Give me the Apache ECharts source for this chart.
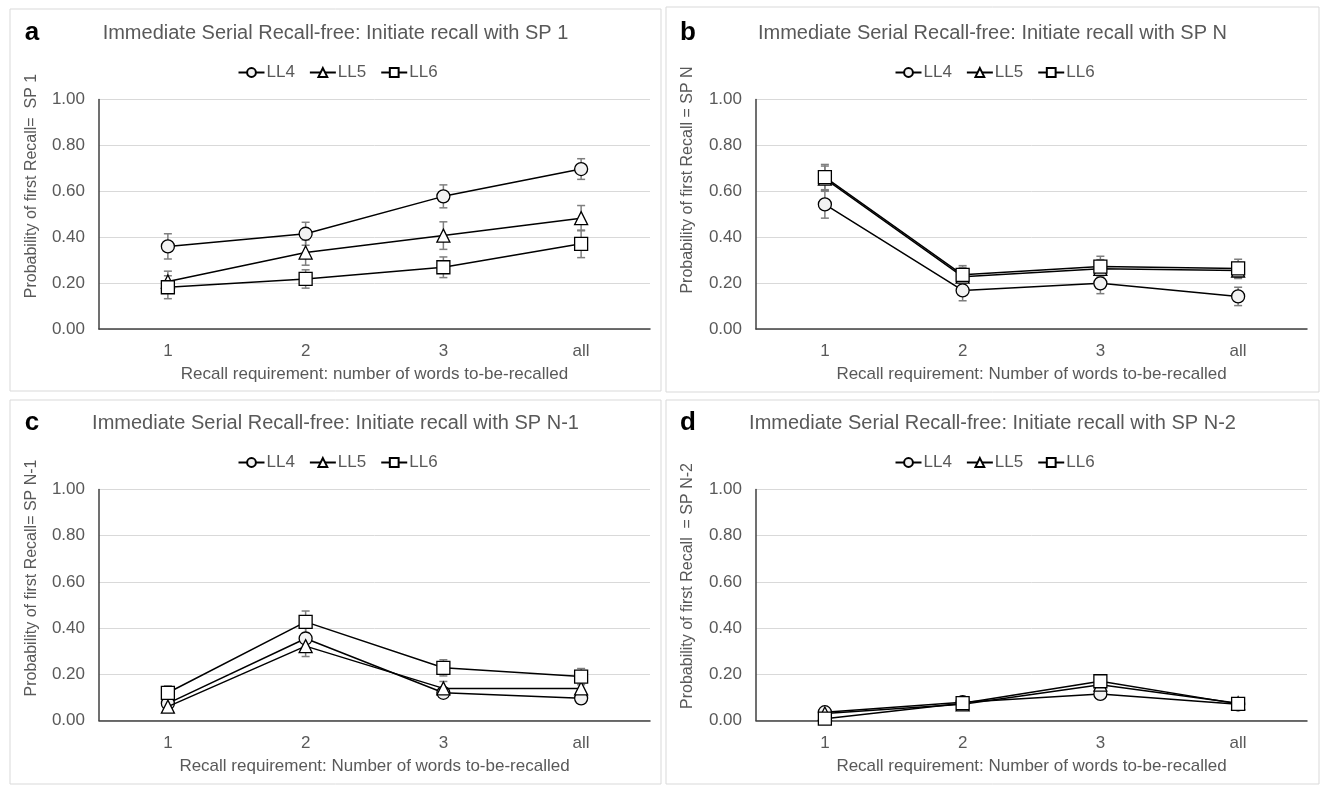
<!DOCTYPE html>
<html>
<head>
<meta charset="utf-8">
<script src="https://cdn.jsdelivr.net/npm/echarts@6/dist/echarts.min.js"></script>
<style>
  html, body { margin: 0; padding: 0; background: #ffffff; }
  #chart { width: 1320px; height: 785px; }
</style>
</head>
<body>
<div id="chart"></div>
<script>
// Category axis and legend entries shared by the four panels
const categories = ['1', '2', '3', 'all'];
const seriesNames = ['LL4', 'LL5', 'LL6'];
const yTickValues = [0, 0.2, 0.4, 0.6, 0.8, 1.0];

// a: initiate recall with SP 1 (means and error-bar half widths)
const aLL4 = [0.36, 0.415, 0.578, 0.697];
const aLL5 = [0.207, 0.333, 0.407, 0.483];
const aLL6 = [0.182, 0.218, 0.269, 0.371];
const aLL4Err = [0.055, 0.05, 0.05, 0.045];
const aLL5Err = [0.045, 0.055, 0.06, 0.055];
const aLL6Err = [0.05, 0.04, 0.045, 0.06];

// b: initiate recall with SP N
const bLL4 = [0.543, 0.168, 0.199, 0.142];
const bLL5 = [0.655, 0.228, 0.262, 0.255];
const bLL6 = [0.662, 0.236, 0.272, 0.264];
const bLL4Err = [0.06, 0.045, 0.045, 0.04];
const bLL5Err = [0.055, 0.04, 0.04, 0.035];
const bLL6Err = [0.055, 0.04, 0.045, 0.04];

// c: initiate recall with SP N-1
const cLL4 = [0.074, 0.355, 0.12, 0.096];
const cLL5 = [0.06, 0.322, 0.139, 0.139];
const cLL6 = [0.12, 0.427, 0.228, 0.19];
const cLL4Err = [0.025, 0.045, 0.02, 0.02];
const cLL5Err = [0.02, 0.045, 0.03, 0.025];
const cLL6Err = [0.03, 0.047, 0.035, 0.035];

// d: initiate recall with SP N-2
const dLL4 = [0.036, 0.079, 0.115, 0.07];
const dLL5 = [0.03, 0.07, 0.155, 0.075];
const dLL6 = [0.008, 0.075, 0.17, 0.072];
const dLL4Err = [0.015, 0.015, 0.02, 0.02];
const dLL5Err = [0.015, 0.015, 0.02, 0.02];
const dLL6Err = [0.01, 0.015, 0.02, 0.02];

// Panel texts
const panelLetters = ['a', 'b', 'c', 'd'];
const panelTitles = [
  'Immediate Serial Recall-free: Initiate recall with SP 1',
  'Immediate Serial Recall-free: Initiate recall with SP N',
  'Immediate Serial Recall-free: Initiate recall with SP N-1',
  'Immediate Serial Recall-free: Initiate recall with SP N-2'
];
const yAxisNames = [
  'Probability of first Recall=  SP 1',
  'Probability of first Recall = SP N',
  'Probability of first Recall= SP N-1',
  'Probability of first Recall  = SP N-2'
];
const xAxisNames = [
  'Recall requirement: number of words to-be-recalled',
  'Recall requirement: Number of words to-be-recalled',
  'Recall requirement: Number of words to-be-recalled',
  'Recall requirement: Number of words to-be-recalled'
];

const panelMeans = [[aLL4, aLL5, aLL6], [bLL4, bLL5, bLL6], [cLL4, cLL5, cLL6], [dLL4, dLL5, dLL6]];
const panelErrors = [[aLL4Err, aLL5Err, aLL6Err], [bLL4Err, bLL5Err, bLL6Err], [cLL4Err, cLL5Err, cLL6Err], [dLL4Err, dLL5Err, dLL6Err]];

// Layout of the 2x2 figure
const layout = [
  { dx: 0,   dy: 0,   box: [10, 9, 651, 382],   h: 229.5, yNameY: 186 },
  { dx: 657, dy: 0,   box: [666, 7, 653, 385],  h: 229.5, yNameY: 180 },
  { dx: 0,   dy: 390, box: [10, 400, 651, 384], h: 231,   yNameY: 578 },
  { dx: 657, dy: 390, box: [666, 400, 653, 384], h: 231,  yNameY: 586 }
];

const symbols = ['circle', 'triangle', 'rect'];
const symbolFills = ['#f2f2f2', '#ffffff', '#ffffff'];
const textGray = '#595959';
const fontFamily = '"Liberation Sans", Arial, sans-serif';

const grids = [], xAxes = [], yAxes = [], series = [], legends = [], graphics = [];

layout.forEach((L, p) => {
  const gridLeft = 99 + L.dx;
  const gridTop = 99.5 + L.dy;
  const centerX = L.box[0] + L.box[2] / 2;

  grids.push({ left: gridLeft, top: gridTop, width: 551, height: L.h });

  xAxes.push({
    gridIndex: p,
    type: 'category',
    data: categories,
    boundaryGap: true,
    axisLine: { lineStyle: { color: '#404040', width: 1.5 } },
    axisTick: { show: false },
    axisLabel: { color: textGray, fontSize: 17, fontFamily, margin: 14 },
    splitLine: { show: false },
    name: xAxisNames[p],
    nameLocation: 'middle',
    nameGap: 37,
    nameTextStyle: { color: textGray, fontSize: 17, fontFamily }
  });

  yAxes.push({
    gridIndex: p,
    type: 'value',
    min: 0,
    max: 1,
    interval: 0.2,
    axisLine: { show: true, lineStyle: { color: '#404040', width: 1.5 } },
    axisTick: { show: false },
    axisLabel: {
      color: textGray, fontSize: 17, fontFamily, margin: 14,
      formatter: v => yTickValues.some(t => Math.abs(t - v) < 1e-9) ? v.toFixed(2) : ''
    },
    splitLine: { lineStyle: { color: '#d9d9d9', width: 1 } }
  });

  seriesNames.forEach((name, s) => {
    const means = panelMeans[p][s];
    const errs = panelErrors[p][s];
    // error bars, drawn beneath the line markers
    series.push({
      type: 'custom',
      name: name + ' error',
      xAxisIndex: p,
      yAxisIndex: p,
      z: 2,
      silent: true,
      data: means.map((m, i) => [i, m - errs[i], m + errs[i]]),
      renderItem: (params, api) => {
        const lo = api.coord([api.value(0), api.value(1)]);
        const hi = api.coord([api.value(0), api.value(2)]);
        const cap = 4;
        const st = { stroke: '#7f7f7f', lineWidth: 1.5 };
        return {
          type: 'group',
          children: [
            { type: 'line', shape: { x1: lo[0], y1: lo[1], x2: hi[0], y2: hi[1] }, style: st },
            { type: 'line', shape: { x1: lo[0] - cap, y1: lo[1], x2: lo[0] + cap, y2: lo[1] }, style: st },
            { type: 'line', shape: { x1: hi[0] - cap, y1: hi[1], x2: hi[0] + cap, y2: hi[1] }, style: st }
          ]
        };
      }
    });
    series.push({
      type: 'line',
      name: name,
      xAxisIndex: p,
      yAxisIndex: p,
      z: 3 + s,
      data: means,
      symbol: symbols[s],
      symbolSize: s === 2 ? 13 : 13,
      showAllSymbol: true,
      lineStyle: { color: '#000000', width: 1.5 },
      itemStyle: { color: symbolFills[s], borderColor: '#000000', borderWidth: 1.3 },
      emphasis: { disabled: true },
      animation: false
    });
  });

  legends.push({
    data: seriesNames,
    left: centerX - 103,
    top: L.dy + 59,
    itemWidth: 26,
    itemHeight: 11,
    itemGap: 14,
    textStyle: { color: textGray, fontSize: 17, fontFamily, padding: [0, 0, 0, -3] },
    selectedMode: false
  });

  // panel frame
  graphics.push({
    type: 'rect',
    shape: { x: L.box[0], y: L.box[1], width: L.box[2], height: L.box[3] },
    style: { fill: null, stroke: '#d9d9d9', lineWidth: 1 },
    z: -1
  });
  // panel letter
  graphics.push({
    type: 'text',
    x: L.box[0] + 22,
    y: L.dy + 33,
    style: {
      text: panelLetters[p], fill: '#000000',
      font: 'bold 26px ' + fontFamily,
      textAlign: 'center', textVerticalAlign: 'middle', align: 'center', verticalAlign: 'middle'
    }
  });
  // panel title
  graphics.push({
    type: 'text',
    x: centerX,
    y: L.dy + 33,
    style: {
      text: panelTitles[p], fill: textGray,
      font: '20px ' + fontFamily,
      textAlign: 'center', textVerticalAlign: 'middle', align: 'center', verticalAlign: 'middle'
    }
  });
  // y axis title
  graphics.push({
    type: 'text',
    x: L.box[0] + 22 + (p % 2 === 1 ? 0 : 0),
    y: L.yNameY,
    rotation: Math.PI / 2,
    style: {
      text: yAxisNames[p], fill: textGray,
      font: '16px ' + fontFamily,
      textAlign: 'center', textVerticalAlign: 'middle', align: 'center', verticalAlign: 'middle'
    }
  });
});

const chart = echarts.init(document.getElementById('chart'), null, { renderer: 'canvas' });
chart.setOption({
  backgroundColor: '#ffffff',
  animation: false,
  grid: grids,
  xAxis: xAxes,
  yAxis: yAxes,
  legend: legends,
  series: series,
  graphic: graphics
});
</script>
</body>
</html>
